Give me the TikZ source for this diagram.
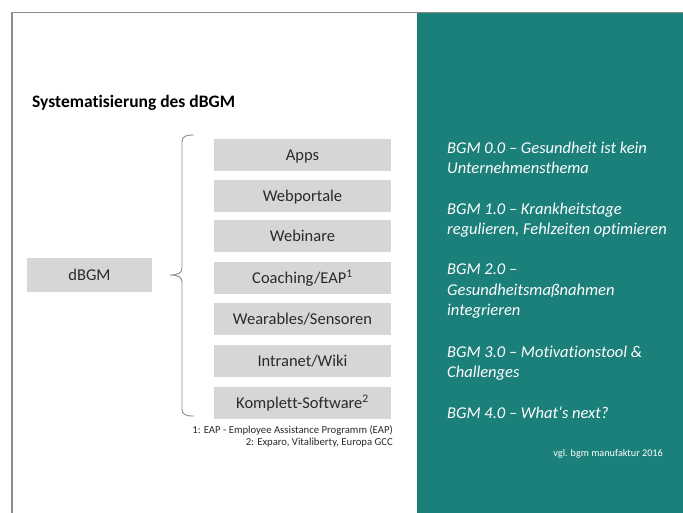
\documentclass[tikz,border=0pt]{standalone}
\usepackage{fontspec}
\setmainfont{Carlito}[Ligatures=NoCommon]
\definecolor{teal1}{HTML}{1B7F7A}
\definecolor{boxgray}{HTML}{D6D6D6}
\definecolor{framegray}{HTML}{8C8C8C}
\definecolor{txt}{HTML}{2A2A2A}
\begin{document}
\begin{tikzpicture}[x=1pt,y=-1pt,
  itembox/.style={fill=boxgray, minimum width=177pt, minimum height=32pt, inner sep=0pt,
    text height=10.6pt, text depth=0pt,
    text=txt, font=\fontsize{16.5}{19}\selectfont},
  rline/.style={anchor=base west, text=white, inner sep=0pt,
    font=\fontsize{16.5}{20}\selectfont\itshape},
  note/.style={anchor=base east, text=txt, inner sep=0pt,
    font=\fontsize{10.7}{12}\selectfont}]
\useasboundingbox (0,0) rectangle (683,513);
\fill[white] (0,0) rectangle (683,513);
\fill[teal1] (417,12.5) rectangle (683,513);
\draw[framegray, line width=1.2pt] (12,513) -- (12,12.3) -- (683,12.3);
% title
\node[anchor=base west, inner sep=0pt, text=black, font=\fontsize{17.5}{20}\selectfont\bfseries] (title) at (32,108) {Systematisierung des dBGM};
% dBGM
\node[itembox, minimum width=125pt, minimum height=33pt] (dbgm) at (89.5,275) {dBGM};
% items
\node[itembox] (apps) at (302.5,155.5) {Apps};
\node[itembox] (web) at (302.5,196.5) {Webportale};
\node[itembox] (webi) at (302.5,236.5) {Webinare};
\node[itembox] (coach) at (302.5,278) {Coaching/EAP\textsuperscript{1}};
\node[itembox] (wear) at (302.5,319) {Wearables/Sensoren};
\node[itembox] (intra) at (302.5,361) {Intranet/Wiki};
\node[itembox] (komp) at (302.5,403) {Komplett-Software\textsuperscript{2}};
% brace
\coordinate (btip) at (170,275);
\draw[framegray, line width=0.9pt] (194,135) .. controls (186,135) and (182,136) .. (182,142)
  -- (182,268) .. controls (182,273) and (178,275) .. (btip)
  .. controls (178,275) and (182,277) .. (182,282)
  -- (182,409) .. controls (182,415) and (186,416) .. (194,416);
% footnotes
\node[note] (fn1) at (393,433) {1: EAP - Employee Assistance Programm (EAP)};
\node[note] (fn2) at (393,445) {2: Exparo, Vitaliberty, Europa GCC};
% right side
\node[rline] (b0a) at (447,154) {BGM 0.0 – Gesundheit ist kein};
\node[rline] (b0b) at (447,174) {Unternehmensthema};
\node[rline] (b1a) at (447,215) {BGM 1.0 – Krankheitstage};
\node[rline] (b1b) at (447,235) {regulieren, Fehlzeiten optimieren};
\node[rline] (b2a) at (447,275) {BGM 2.0 –};
\node[rline] (b2b) at (447,295) {Gesundheitsmaßnahmen};
\node[rline] (b2c) at (447,315) {integrieren};
\node[rline] (b3a) at (447,357) {BGM 3.0 – Motivationstool \&};
\node[rline] (b3b) at (447,377) {Challenges};
\node[rline] (b4) at (447,418) {BGM 4.0 – What‘s next?};
\node[anchor=base east, inner sep=0pt, text=white, font=\fontsize{10.2}{12}\selectfont] (vgl) at (663,456) {vgl. bgm manufaktur 2016};
\end{tikzpicture}
\end{document}
